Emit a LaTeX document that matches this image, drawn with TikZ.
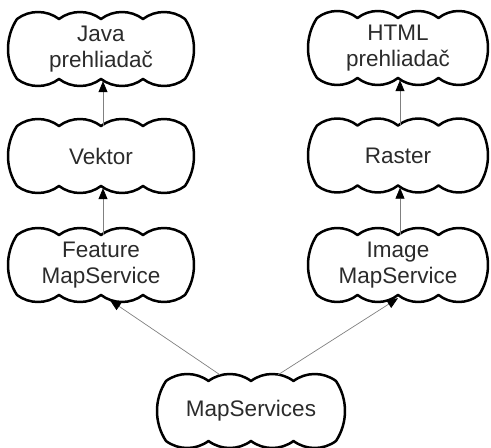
\documentclass[tikz,border=0pt]{standalone}
\usepackage{fontspec}
\setmainfont{Liberation Sans}
\usetikzlibrary{arrows.meta}
\definecolor{txt}{HTML}{2B2B2B}
\tikzset{
  cloudline/.style={line width=2.5pt, black, line join=round},
  cloudtext/.style={inner sep=0pt, align=center, text=txt,
    font=\fontsize{22.5}{26.5}\selectfont},
  conn/.style={draw=gray, line width=0.7pt,
    -{Triangle[length=11pt,width=9pt,color=black]}},
}
% #1 name, #2 cx, #3 cy, #4 half width, #5 half height, #6 text
\newcommand\mycloud[6]{%
  \pgfmathsetmacro\ca{#4-9}%
  \pgfmathsetmacro\cb{#5-7}%
  \pgfmathsetmacro\cL{\ca/2}%
  \pgfmathsetmacro\rt{(\cL*\cL/4+49)/14}%
  \pgfmathsetmacro\pt{asin(\cL/(2*\rt))}%
  \pgfmathsetmacro\Ls{2*\cb}%
  \pgfmathsetmacro\rs{(\Ls*\Ls/4+81)/18}%
  \pgfmathsetmacro\ps{asin(\Ls/(2*\rs))}%
  \draw[cloudline] ({#2-\ca},{#3+\cb})
    arc[start angle=90+\pt, end angle=90-\pt, radius=\rt pt]
    arc[start angle=90+\pt, end angle=90-\pt, radius=\rt pt]
    arc[start angle=90+\pt, end angle=90-\pt, radius=\rt pt]
    arc[start angle=90+\pt, end angle=90-\pt, radius=\rt pt]
    arc[start angle=\ps, end angle=-\ps, radius=\rs pt]
    arc[start angle=270+\pt, end angle=270-\pt, radius=\rt pt]
    arc[start angle=270+\pt, end angle=270-\pt, radius=\rt pt]
    arc[start angle=270+\pt, end angle=270-\pt, radius=\rt pt]
    arc[start angle=270+\pt, end angle=270-\pt, radius=\rt pt]
    arc[start angle=180+\ps, end angle=180-\ps, radius=\rs pt]
    -- cycle;
  \node[cloudtext, minimum width={2*#4 pt}, minimum height={2*#5 pt}] (#1) at (#2,#3) {#6};
}
\begin{document}
\begin{tikzpicture}[x=1pt,y=1pt]
\useasboundingbox (0,0) rectangle (491,448);
\mycloud{java}{101}{399}{93}{37}{Java\\prehliadač}
\mycloud{vek}{101}{292}{93}{37}{Vektor}
\mycloud{fms}{101}{183}{93}{37}{Feature\\MapService}
\mycloud{html}{398}{400}{90}{37}{HTML\\prehliadač}
\mycloud{ras}{398}{292.5}{90}{37}{Raster}
\mycloud{ims}{398}{183}{90}{37}{Image\\MapService}
\mycloud{ms}{251}{37}{94}{37}{MapServices}
\draw[conn] ([xshift=2pt,yshift=-7pt]vek.north) -- ([xshift=2pt,yshift=5pt]java.south);
\draw[conn] ([xshift=2pt,yshift=-7pt]fms.north) -- ([xshift=2pt,yshift=5pt]vek.south);
\draw[conn] ([xshift=2pt,yshift=-7pt]ras.north) -- ([xshift=2pt,yshift=5pt]html.south);
\draw[conn] ([xshift=2pt,yshift=-7pt]ims.north) -- ([xshift=2pt,yshift=5pt]ras.south);
\draw[conn] ([xshift=-31pt,yshift=-1pt]ms.north) -- ([xshift=9pt,yshift=2pt]fms.south);
\draw[conn] ([xshift=27pt,yshift=-1pt]ms.north) -- ([xshift=0pt,yshift=4pt]ims.south);
\end{tikzpicture}
\end{document}
